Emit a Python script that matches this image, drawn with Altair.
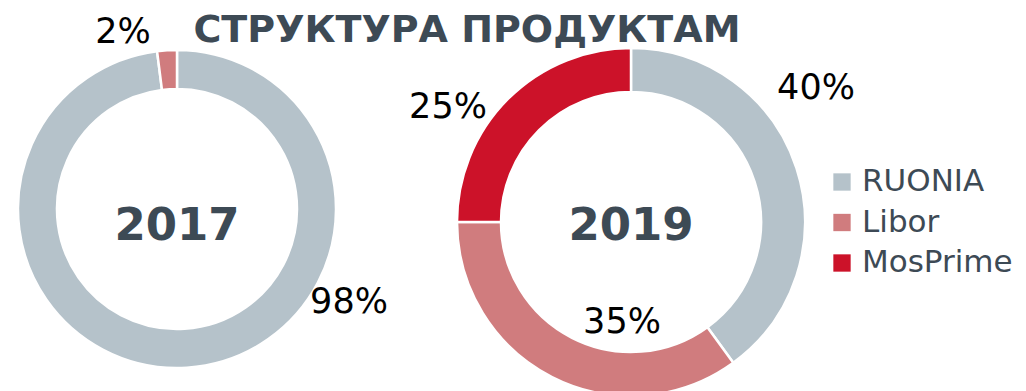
import altair as alt
import pandas as pd

# Data
products = ["RUONIA", "Libor", "MosPrime"]
product_colors = ["#b5c2ca", "#d07c7e", "#cc1229"]
years = ["2017", "2019"]
shares_2017 = [98, 2, 0]
shares_2019 = [40, 35, 25]
title_text = "СТРУКТУРА ПРОДУКТАМ"

# Layout (pixels)
W, H = 1026, 391
FONT = "DejaVu Sans"
TEXT_DARK = "#3d4a55"
centers = {"2017": (177, 209), "2019": (631, 222)}
radii = {"2017": (120, 159), "2019": (130, 174)}
# percentage label anchors relative to each ring centre (x centre, text baseline)
label_offsets = {
    "2017": [(172, 104), (-54, -166), None],
    "2019": [(185, -123), (-9, 111), (-183, -104)],
}
legend_x, legend_top, legend_step = 842, 182, 40.5

color_scale = alt.Scale(domain=products, range=product_colors)
shares_by_year = {"2017": shares_2017, "2019": shares_2019}

layers = []
label_rows = []
for year in years:
    shares = shares_by_year[year]
    df = pd.DataFrame({"product": products, "share": shares, "idx": range(len(products))})
    df = df[df["share"] > 0]
    cx, cy = centers[year]
    ri, ro = radii[year]
    ring = alt.Chart(df).mark_arc(
        innerRadius=ri, outerRadius=ro, stroke="white", strokeWidth=2.5
    ).encode(
        theta=alt.Theta("share:Q", stack=True),
        color=alt.Color("product:N", scale=color_scale, legend=None),
        order=alt.Order("idx:Q"),
        x=alt.value(cx),
        y=alt.value(cy),
    )
    layers.append(ring)

    year_text = alt.Chart(pd.DataFrame({"t": [year]})).mark_text(
        font=FONT, fontSize=45, fontWeight="bold", color=TEXT_DARK,
        align="center", baseline="alphabetic",
    ).encode(text="t:N", x=alt.value(cx), y=alt.value(240))
    layers.append(year_text)

    for share, off in zip(shares, label_offsets[year]):
        if share > 0 and off is not None:
            label_rows.append({"label": f"{share}%", "px": cx + off[0], "py": cy + off[1]})

labels = alt.Chart(pd.DataFrame(label_rows)).mark_text(
    font=FONT, fontSize=35, color="black", align="center", baseline="alphabetic"
).encode(
    text="label:N",
    x=alt.X("px:Q", scale=None, axis=None),
    y=alt.Y("py:Q", scale=None, axis=None),
)
layers.append(labels)

legend_df = pd.DataFrame({
    "product": products,
    "ly": [legend_top + i * legend_step for i in range(len(products))],
})
legend_squares = alt.Chart(legend_df).mark_square(size=300, opacity=1).encode(
    x=alt.value(legend_x),
    y=alt.Y("ly:Q", scale=None, axis=None),
    color=alt.Color("product:N", scale=color_scale, legend=None),
)
legend_labels = alt.Chart(legend_df).mark_text(
    font=FONT, fontSize=31, color=TEXT_DARK, align="left", baseline="middle", dx=20
).encode(
    text="product:N",
    x=alt.value(legend_x),
    y=alt.Y("ly:Q", scale=None, axis=None),
)
layers += [legend_squares, legend_labels]

title = alt.Chart(pd.DataFrame({"t": [title_text]})).mark_text(
    font=FONT, fontSize=38, fontWeight="bold", color=TEXT_DARK,
    align="center", baseline="alphabetic",
).encode(text="t:N", x=alt.value(467), y=alt.value(42))
layers.append(title)

chart = alt.layer(*layers).properties(
    width=W, height=H, padding=0, autosize="none", background="white"
).configure_view(stroke=None)

chart.save("out.html", embed_options={"renderer": "svg", "actions": False})
